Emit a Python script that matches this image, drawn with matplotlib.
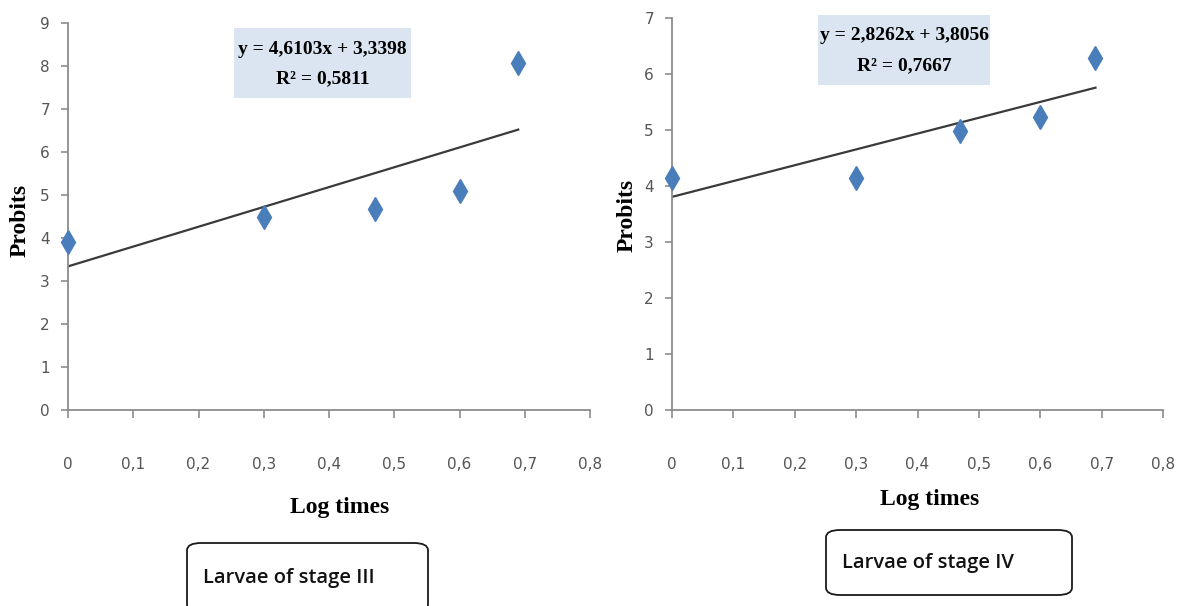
import matplotlib.pyplot as plt
from matplotlib.patches import Rectangle, FancyBboxPatch

# log times and probits
log_t = [0.0, 0.30, 0.47, 0.60, 0.69]
probit_III = [3.90, 4.50, 4.67, 5.10, 8.07]
probit_IV = [4.15, 4.15, 4.98, 5.24, 6.28]

# trend lines as printed on the chart
slope_III, icpt_III, r2_III = 4.6103, 3.3398, 0.5811
slope_IV, icpt_IV, r2_IV = 2.8262, 3.8056, 0.7667

x_ticks = [0, 0.1, 0.2, 0.3, 0.4, 0.5, 0.6, 0.7, 0.8]
x_ticklabels = ["0", "0,1", "0,2", "0,3", "0,4", "0,5", "0,6", "0,7", "0,8"]

W, H = 1184, 606
fig = plt.figure(figsize=(W / 100, H / 100), dpi=100)

tick_font = ["Liberation Sans Narrow", "DejaVu Sans"]
serif = ["Liberation Serif", "DejaVu Serif"]
box_font = ["Open Sans", "DejaVu Sans"]


def fx(px):
    return px / W


def fy(py):
    return 1 - py / H


def panel(rect, ys, slope, icpt, r2, ymax, eqbox, label_pos, stage, stagebox, stagetext):
    ax = fig.add_axes(rect)
    x_fit = [log_t[0], log_t[-1]]
    y_fit = [icpt + slope * v for v in x_fit]
    ax.plot(x_fit, y_fit, color="#3a3a3a", lw=1.6, zorder=2)
    ax.plot(log_t, ys, linestyle="none", marker="d", ms=12,
            color="#4a7ebb", zorder=3, clip_on=False)
    ax.set_xlim(0, 0.8)
    ax.set_ylim(0, ymax)
    ax.set_xticks(x_ticks)
    ax.set_xticklabels(x_ticklabels)
    ax.set_yticks(range(0, ymax + 1))
    for s in ["top", "right"]:
        ax.spines[s].set_visible(False)
    for s in ["left", "bottom"]:
        ax.spines[s].set_color("#8c8c8c")
        ax.spines[s].set_linewidth(1.3)
    ax.tick_params(axis="x", direction="out", length=6, width=1.2,
                   color="#8c8c8c", pad=28, labelsize=11, labelcolor="#555555")
    ax.tick_params(axis="y", direction="out", length=5, width=1.2,
                   color="#8c8c8c", pad=8, labelsize=11, labelcolor="#555555")
    for t in ax.get_xticklabels() + ax.get_yticklabels():
        t.set_family(tick_font)

    # equation box
    x0, y0, x1, y1 = eqbox
    fig.patches.append(Rectangle((fx(x0), fy(y1)), fx(x1 - x0), (y1 - y0) / H,
                                 transform=fig.transFigure, facecolor="#dbe5f1",
                                 edgecolor="none", zorder=1))
    cx = fx((x0 + x1) / 2)
    eq = f"y = {slope:.4f}x + {icpt:.4f}".replace(".", ",")
    rr = f"R² = {r2:.4f}".replace(".", ",")
    fig.text(cx, fy(y0 + (y1 - y0) * 0.30), eq, ha="center", va="center",
             family=serif, weight="bold", fontsize=14, zorder=2)
    fig.text(cx, fy(y0 + (y1 - y0) * 0.72), rr, ha="center", va="center",
             family=serif, weight="bold", fontsize=14, zorder=2)

    # axis titles
    px, py, lx, ly = label_pos
    fig.text(fx(px), fy(py), "Probits", rotation=90, ha="center", va="center",
             family=serif, weight="bold", fontsize=17)
    fig.text(fx(lx), fy(ly), "Log times", ha="center", va="center",
             family=serif, weight="bold", fontsize=17)

    # stage box
    bx0, by0, bx1, by1 = stagebox
    fig.patches.append(FancyBboxPatch((fx(bx0), fy(by1)), fx(bx1 - bx0), (by1 - by0) / H,
                                      boxstyle="round,pad=0,rounding_size=0.012",
                                      transform=fig.transFigure, facecolor="white",
                                      edgecolor="#1a1a1a", lw=1.3))
    tx, ty = stagetext
    fig.text(fx(tx), fy(ty), stage, ha="left", va="center",
             family=box_font, weight="semibold", fontsize=14.5, color="#111111")
    return ax


panel([fx(68), fy(410), fx(590 - 68), (410 - 23) / H], probit_III,
      slope_III, icpt_III, r2_III, 9, (234, 28, 411, 98),
      (20, 220, 340, 507), "Larvae of stage III",
      (187, 543, 428, 612), (203, 578))

panel([fx(672), fy(410), fx(1163 - 672), (410 - 18) / H], probit_IV,
      slope_IV, icpt_IV, r2_IV, 7, (818, 15, 990, 85),
      (627, 215, 930, 499), "Larvae of stage IV",
      (826, 530, 1072, 595), (842, 563))

fig.savefig("out.png", dpi=100)
